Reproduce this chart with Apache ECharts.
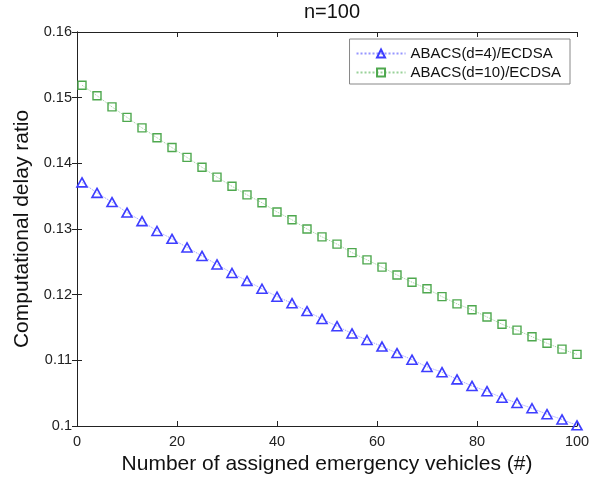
<!DOCTYPE html>
<html>
<head>
<meta charset="utf-8">
<script src="https://cdn.jsdelivr.net/npm/echarts@6/dist/echarts.min.js"></script>
<style>html,body{margin:0;padding:0;background:#fff;overflow:hidden}#c{width:601px;height:477px}</style>
</head>
<body>
<div id="c"></div>
<script>
var titleText = 'n=100';
var xName = 'Number of assigned emergency vehicles (#)';
var yName = 'Computational delay ratio';
var seriesNames = ['ABACS(d=4)/ECDSA', 'ABACS(d=10)/ECDSA'];
var xValues = [1,4,7,10,13,16,19,22,25,28,31,34,37,40,43,46,49,52,55,58,61,64,67,70,73,76,79,82,85,88,91,94,97,100];
var d4Values = [0.1371,0.1355,0.1341,0.1325,0.1312,0.1297,0.1285,0.1272,0.1259,0.1246,0.1233,0.1221,0.1209,0.1197,0.1187,0.1175,0.1163,0.1152,0.1141,0.1131,0.1121,0.1111,0.1101,0.1090,0.1082,0.1071,0.1061,0.1053,0.1043,0.1035,0.1027,0.1018,0.1010,0.1001];
var d10Values = [0.1519,0.1503,0.1486,0.1470,0.1454,0.1439,0.1424,0.1409,0.1394,0.1379,0.1365,0.1352,0.1340,0.1326,0.1314,0.1300,0.1288,0.1277,0.1264,0.1253,0.1242,0.1230,0.1219,0.1209,0.1197,0.1186,0.1177,0.1166,0.1155,0.1146,0.1136,0.1126,0.1117,0.1109];

function pairs(xs, ys){ return xs.map(function(x,i){ return [x, ys[i]]; }); }

var font = 'Liberation Sans, Arial, Helvetica, sans-serif';
var axisLine = {show:true, lineStyle:{color:'#222', width:1}};
var axisTick = {show:true, inside:true, length:5, lineStyle:{color:'#222', width:1}};

var chart = echarts.init(document.getElementById('c'), null, {renderer:'canvas'});
chart.setOption({
  backgroundColor:'#fff',
  animation:false,
  title:{text:titleText, left:327, textAlign:'center', top:-3, textStyle:{fontFamily:font, fontSize:20, fontWeight:'normal', color:'#111'}},
  grid:{left:77, right:24, top:32, bottom:51, containLabel:false, outerBoundsMode:'none'},
  legend:{
    orient:'vertical', right:31, top:39, padding:[7,9,4,6], itemGap:4,
    itemWidth:49, itemHeight:10, backgroundColor:'#fff', borderColor:'#888', borderWidth:1, borderRadius:0,
    textStyle:{fontFamily:font, fontSize:15, color:'#111'},
    data:seriesNames
  },
  xAxis:[{
    type:'value', min:0, max:100, interval:20,
    name:xName, nameLocation:'middle', nameGap:26,
    nameTextStyle:{fontFamily:font, fontSize:21, color:'#111'},
    axisLine:axisLine, axisTick:axisTick, splitLine:{show:false},
    axisLabel:{fontFamily:font, fontSize:14.5, color:'#222', margin:8}
  },{
    type:'value', min:0, max:100, interval:20, position:'top',
    axisLine:axisLine, axisTick:axisTick, splitLine:{show:false}, axisLabel:{show:false}
  }],
  yAxis:[{
    type:'value', min:0.1, max:0.16, interval:0.01,
    name:yName, nameLocation:'middle', nameGap:42,
    nameTextStyle:{fontFamily:font, fontSize:21, color:'#111'},
    axisLine:axisLine, axisTick:axisTick, splitLine:{show:false},
    axisLabel:{fontFamily:font, fontSize:14.5, color:'#222', margin:5, formatter:function(v){return String(parseFloat(v.toFixed(2)));}}
  },{
    type:'value', min:0.1, max:0.16, interval:0.01, position:'right',
    axisLine:axisLine, axisTick:axisTick, splitLine:{show:false}, axisLabel:{show:false}
  }],
  series:[{
    name:seriesNames[0], type:'line', data:pairs(xValues, d4Values),
    symbol:'triangle', symbolSize:[10,9], showAllSymbol:true,
    lineStyle:{type:'dotted', width:1, color:'#6a6aff', opacity:0.7},
    itemStyle:{color:'rgba(255,255,255,0)', borderColor:'#3d3dff', borderWidth:1.6}
  },{
    name:seriesNames[1], type:'line', data:pairs(xValues, d10Values),
    symbol:'rect', symbolSize:8, showAllSymbol:true,
    lineStyle:{type:'dotted', width:1, color:'#6dbd6d', opacity:0.7},
    itemStyle:{color:'rgba(255,255,255,0)', borderColor:'#4ea84e', borderWidth:1.4}
  }]
});
</script>
</body>
</html>
